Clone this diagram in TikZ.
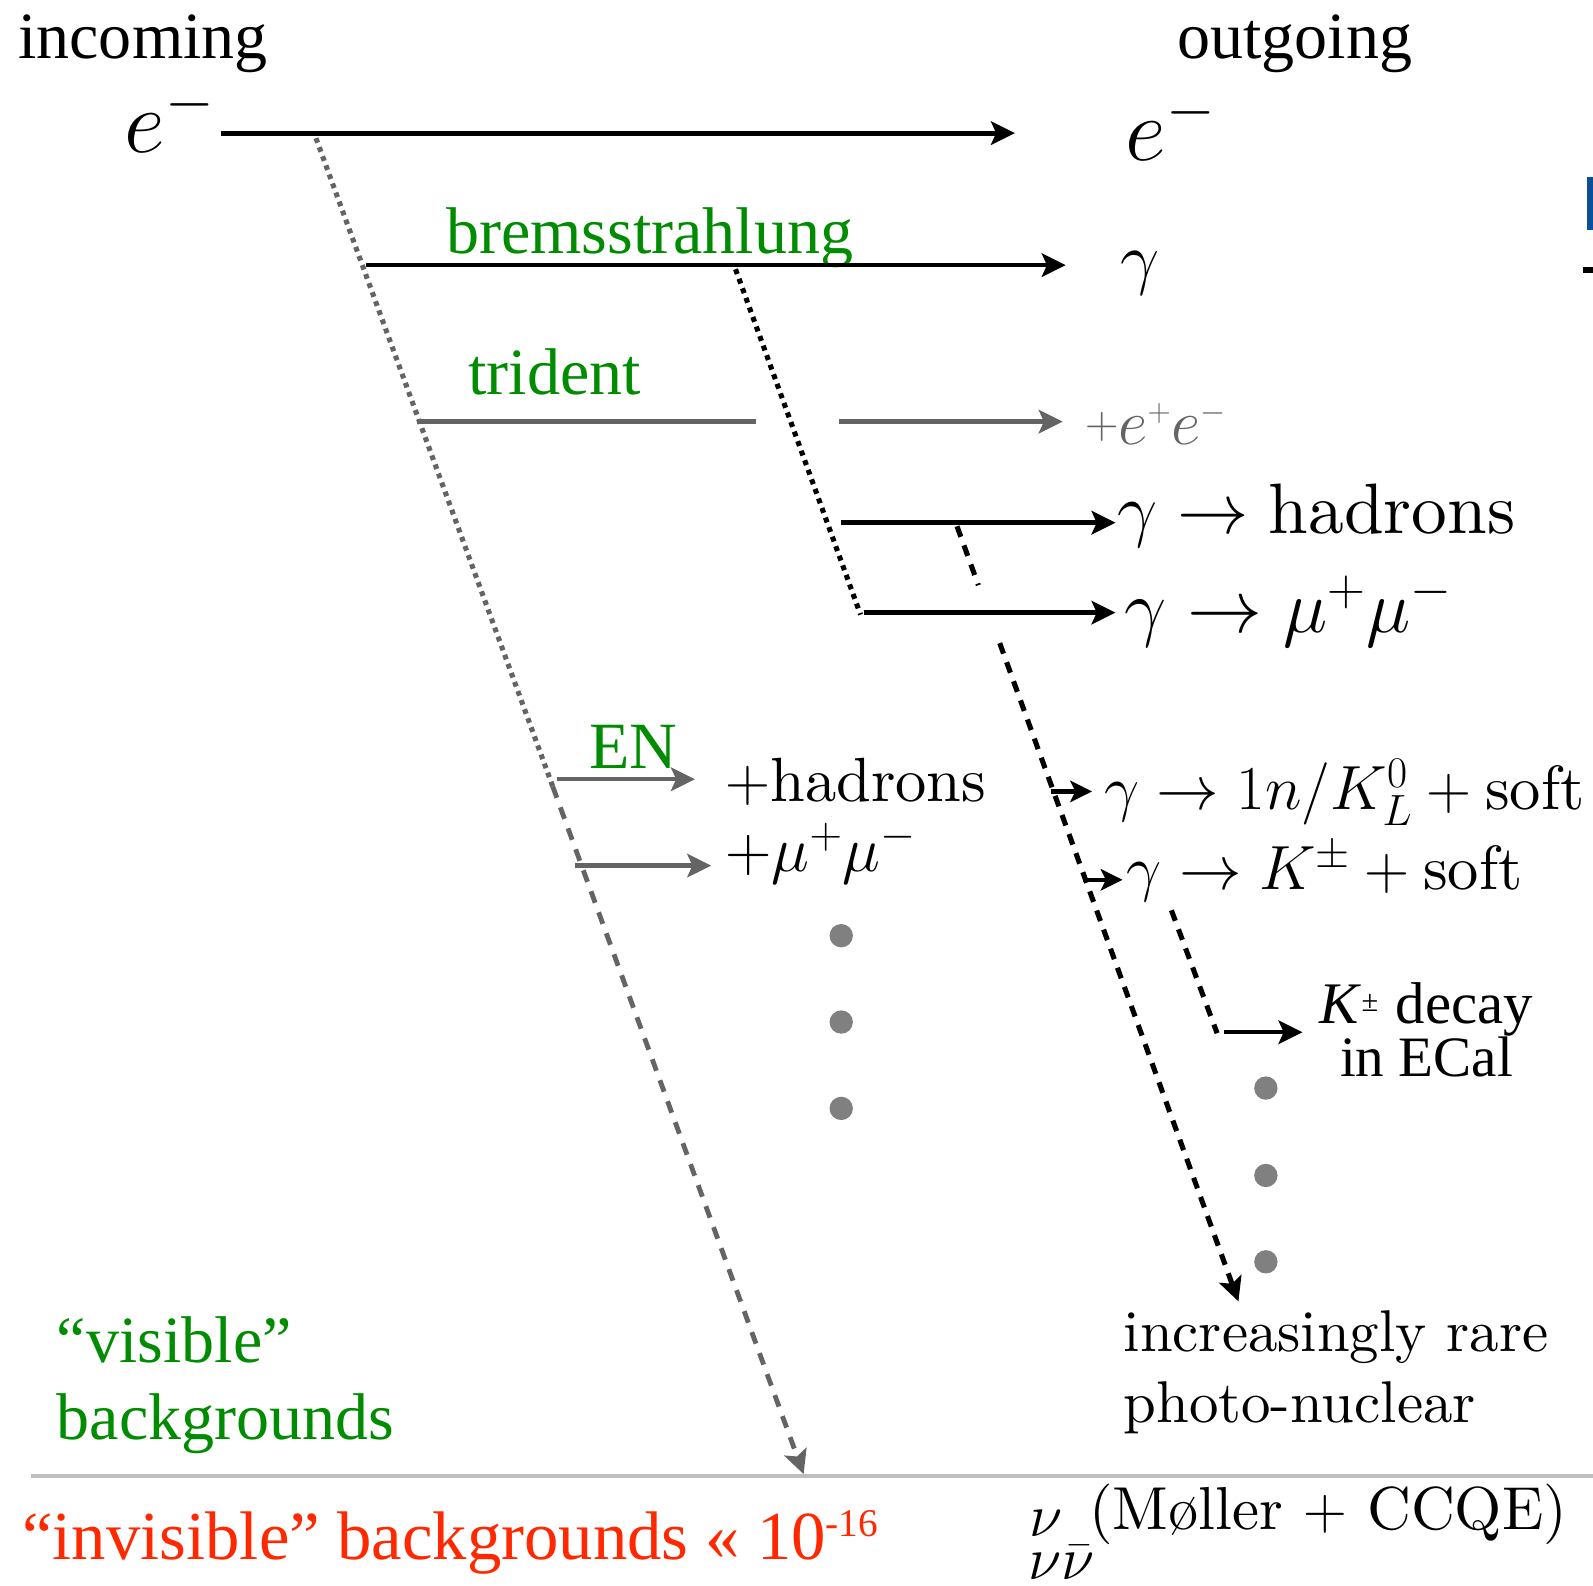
\documentclass[tikz,border=0pt]{standalone}
\usepackage{fix-cm}
\usepackage{fontspec}
\setmainfont{lmroman10-regular.otf}[ItalicFont=lmroman10-italic.otf,BoldFont=lmroman10-bold.otf]
\newfontfamily\tms{Liberation Serif}
\usetikzlibrary{arrows.meta}
\newcommand\myfs[1]{\fontsize{#1}{#1}\selectfont}
\definecolor{gtext}{RGB}{0,140,0}
\definecolor{rtext}{RGB}{255,40,0}
\definecolor{gline}{RGB}{100,100,100}
\definecolor{gdot}{RGB}{128,128,128}
\definecolor{hline}{RGB}{190,190,190}
\definecolor{bbar}{RGB}{11,78,154}
\begin{document}
\begin{tikzpicture}[x=0.02cm,y=-0.02cm,
  lbl/.style={inner sep=0pt,outer sep=0pt,anchor=base west},
  arr/.style={-{Stealth[length=0.47cm,width=0.46cm,inset=0.1cm]}},
  blk/.style={draw=black,line width=0.1cm},
  gry/.style={draw=gline,line width=0.1cm},
  dotblk/.style={draw=black,line width=0.1cm,dash pattern=on 0.1cm off 0.1cm},
  dotgry/.style={draw=gline,line width=0.1cm,dash pattern=on 0.095cm off 0.095cm},
  dashgry/.style={draw=gline,line width=0.095cm,dash pattern=on 0.24cm off 0.2cm},
  dashblk/.style={draw=black,line width=0.1cm,dash pattern=on 0.22cm off 0.18cm},
  gdotst/.style={fill=gdot,draw=none,circle,minimum size=0.46cm,inner sep=0pt},
]
\useasboundingbox (0,0) rectangle (1568,1561);
% right-edge fragments
\fill[bbar] (1562,174) rectangle (1568,226);
\fill[black] (1558,263) rectangle (1568,269);

% texts
\node[lbl,font=\tms\myfs{37}] (tIn) at (18,58) {incoming};
\node[lbl,font=\myfs{50}] (eIn) at (123,150) {$e^-$};
\node[lbl,font=\tms\myfs{37}] (tOut) at (1159,58) {outgoing};
\node[lbl,font=\myfs{50}] (eOut) at (1108,158) {$e^-$};
\node[lbl,font=\myfs{39}] (gOut) at (1103,277) {$\gamma$};
\node[lbl,font=\tms\myfs{37},text=gtext] (tBrem) at (439,250) {bremsstrahlung};
\node[lbl,font=\tms\myfs{37},text=gtext] (tTri) at (461,388) {trident};
\node[lbl,text=gline] (tEE) at (1068,438) {\raisebox{0.12cm}{\myfs{26}$+$}\myfs{36}$e^{\scriptscriptstyle+}e^{\scriptscriptstyle-}$};
\node[lbl,font=\myfs{40}] (tHad) at (1100,525) {$\gamma\rightarrow\mathrm{hadrons}$};
\node[lbl,font=\myfs{42}] (tMu) at (1107,623) {$\gamma\rightarrow\mu^+\mu^-$};
\node[lbl,font=\tms\myfs{37},text=gtext] (tEN) at (580,756) {EN};
\node[lbl,font=\myfs{35}] (tENh) at (714,789) {$+\mathrm{hadrons}$};
\node[lbl,font=\myfs{36}] (tENm) at (714,858) {$+\mu^+\mu^-$};
\node[lbl,font=\myfs{35}] (tKL) at (1087,797) {$\gamma\rightarrow 1n/K^0_L+\mathrm{soft}$};
\node[lbl,font=\myfs{35}] (tKpm) at (1109,876) {$\gamma\rightarrow K^\pm+\mathrm{soft}$};
\node[lbl,font=\tms\myfs{33}] (tKd) at (1299,1007) {\textit{K}\raisebox{0.22cm}{\myfs{17}±}\hspace{0.35cm}decay};
\node[lbl,font=\tms\myfs{32}] (tKe) at (1319,1060) {in ECal};
\node[lbl,font=\myfs{33}] (tRare1) at (1106,1330) {increasingly rare};
\node[lbl,font=\myfs{33}] (tRare2) at (1106,1400) {photo-nuclear};
\node[lbl,font=\tms\myfs{37},text=gtext] (tVis1) at (56,1341) {“visible”};
\node[lbl,font=\tms\myfs{37},text=gtext] (tVis2) at (56,1417) {backgrounds};
\node[lbl,font=\tms\myfs{38.5},text=rtext] (tInv) at (22,1535) {“invisible” backgrounds « 10\raisebox{0.45cm}{\myfs{22}-16}};
\node[lbl,font=\myfs{34}] (tNu) at (1013,1512) {$\nu$};
\node[lbl,font=\myfs{34}] (tMol) at (1072,1505) {(Møller $+$ CCQE)};
\node[lbl,font=\myfs{34}] (tNuNu) at (1012,1555) {$\nu\bar\nu$};

% dots
\node[gdotst] (d1) at (828,921) {};
\node[gdotst] (d2) at (828,1006) {};
\node[gdotst] (d3) at (828,1091) {};
\node[gdotst] (d4) at (1246,1071) {};
\node[gdotst] (d5) at (1246,1157) {};
\node[gdotst] (d6) at (1246,1242) {};

% coordinates
\coordinate (eA) at (218,131);   \coordinate (eB) at (999,131);
\coordinate (bA) at (360,261);   \coordinate (bB) at (1049,261);
\coordinate (tA) at (410,415);   \coordinate (tB) at (744,415);
\coordinate (tC) at (826,415);   \coordinate (tD) at (1046,415);
\coordinate (hA) at (828,514.5); \coordinate (hB) at (1098,514.5);
\coordinate (mA) at (850,603);   \coordinate (mB) at (1098,603);
\coordinate (gTop) at (311,136); \coordinate (gMid) at (544,774);
\coordinate (gEnd) at (791,1451);
\coordinate (kTop) at (724,265); \coordinate (kBot) at (847,605);
\coordinate (pA) at (942,518);   \coordinate (pB) at (963,576);
\coordinate (pC) at (984,633);   \coordinate (pD) at (1219,1281);
\coordinate (nA) at (548,767);   \coordinate (nB) at (684,767);
\coordinate (nC) at (566,852);   \coordinate (nD) at (700,852);
\coordinate (sA) at (1034,779);  \coordinate (sB) at (1075,779);
\coordinate (sC) at (1066,866);  \coordinate (sD) at (1105,866);
\coordinate (qA) at (1153,896);  \coordinate (qB) at (1198,1017);
\coordinate (qC) at (1205,1016); \coordinate (qD) at (1282,1016);
\coordinate (lA) at (31,1453);   \coordinate (lB) at (1568,1453);

% separator
\draw[draw=hline,line width=0.08cm] (lA) -- (lB);

% primary lines
\draw[blk,arr] (eA) -- (eB);
\draw[blk,line width=0.09cm,arr] (bA) -- (bB);
\draw[gry] (tA) -- (tB);
\draw[gry,arr] (tC) -- (tD);
\draw[blk,line width=0.09cm,arr] (hA) -- (hB);
\draw[blk,line width=0.09cm,arr] (mA) -- (mB);

% slanted propagation lines
\draw[dotgry] (gTop) -- (gMid);
\draw[dashgry,arr] (gMid) -- (gEnd);
\draw[dotblk] (kTop) -- (kBot);
\draw[dashblk] (pA) -- (pB);
\draw[dashblk,arr] (pC) -- (pD);
\draw[dashblk] (qA) -- (qB);

% branch arrows
\draw[gry,line width=0.085cm,arr] (nA) -- (nB);
\draw[gry,line width=0.085cm,arr] (nC) -- (nD);
\draw[blk,line width=0.085cm,-{Stealth[length=0.43cm,width=0.42cm,inset=0.1cm]}] (sA) -- (sB);
\draw[blk,line width=0.085cm,-{Stealth[length=0.43cm,width=0.42cm,inset=0.1cm]}] (sC) -- (sD);
\draw[blk,line width=0.085cm,arr] (qC) -- (qD);
\end{tikzpicture}
\end{document}
